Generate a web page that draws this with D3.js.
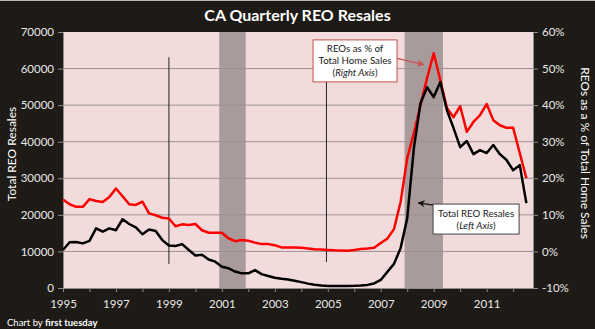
<!DOCTYPE html>
<html lang="en">
<head>
<meta charset="utf-8">
<title>CA Quarterly REO Resales</title>
<style>
  body { margin: 0; background: #1e1a15; }
  svg { display: block; }
  text { font-family: Lato, "Open Sans", sans-serif; }
  .axis text { fill: #e8e8e8; font-size: 11.5px; }
  .axis path, .axis line { stroke: #8c8c8c; }
  .note text { font-size: 9.7px; fill: #1a1a1a; text-anchor: middle; }
</style>
</head>
<body>
<svg width="595" height="329"></svg>
<script src="https://cdn.jsdelivr.net/npm/d3@7"></script>
<script>
// quarterly REO resales in California, 1995 Q1 through 2012 Q3
var startYear = 1995,
    quarterCount = 71;

// total REO resales per quarter (left axis)
var reoResales = [
  10400, 12500, 12600, 12200,
  12900, 16300, 15400, 16300,
  15800, 18800, 17500, 16600,
  14700, 16000, 15600, 13100,
  11600, 11500, 12000, 10400,
   8900,  9100,  7800,  7200,
   5800,  5400,  4500,  4000,
   4000,  4900,  3800,  3300,
   2800,  2500,  2300,  2000,
   1600,  1200,   900,   700,
    550,   550,   550,   550,
    600,   700,   850,  1250,
   2200,  4400,  6600, 10900,
  19100, 38200, 50500, 54900,
  52200, 56300, 48600, 43700,
  38500, 40200, 36600, 37700,
  36900, 39100, 36600, 35000,
  32200, 33600, 23200
];

// REOs as a percentage of all home sales (right axis)
var reoShare = [
  14.2, 12.9, 12.2, 12.2,
  14.3, 13.8, 13.5, 14.9,
  17.2, 15.1, 12.9, 12.7,
  13.6, 10.4,  9.9,  9.2,
   9.0,  6.9,  7.4,  7.2,
   7.5,  5.8,  5.1,  5.1,
   5.1,  3.6,  2.8,  3.1,
   2.9,  2.4,  2.0,  2.0,
   1.7,  1.1,  1.1,  1.1,
   1.0,  0.8,  0.6,  0.5,
   0.4,  0.3,  0.25, 0.2,
   0.4,  0.65, 0.8,  1.0,
   2.3,  3.5,  6.1, 13.5,
  25.5, 32.3, 40.0, 47.4,
  54.2, 46.8, 39.2, 36.7,
  39.7, 32.7, 35.4, 37.3,
  40.3, 35.9, 34.5, 33.8,
  33.8, 26.9, 20.0
];

// recessions, as fractional years
var recessions = [[2000.9, 2001.9], [2007.9, 2009.35]];

var tickYears = d3.range(1995, 2013);
var leftTicks = d3.range(0, 70001, 10000);
var rightTicks = d3.range(-10, 61, 10);

var svg = d3.select("svg"),
    margin = {top: 32, right: 62, bottom: 41, left: 63},
    width = +svg.attr("width") - margin.left - margin.right,
    height = +svg.attr("height") - margin.top - margin.bottom;

// one point per quarter, x is a fractional year
var quarters = d3.range(quarterCount).map(function(i) { return startYear + i / 4; });

var x = d3.scaleLinear().domain([1995, 2012.75]).range([0, width]);
var yL = d3.scaleLinear().domain([0, 70000]).range([height, 0]);
var yR = d3.scaleLinear().domain([-10, 60]).range([height, 0]);

// thin light edge along the top of the frame
svg.append("rect").attr("width", 595).attr("height", 1).attr("fill", "#b8b8b8");

svg.append("text")
  .attr("x", 297.5).attr("y", 21)
  .attr("text-anchor", "middle")
  .attr("fill", "#fff")
  .style("font-size", "16px").style("font-weight", "bold")
  .text("CA Quarterly REO Resales");

var g = svg.append("g").attr("transform", "translate(" + margin.left + "," + margin.top + ")");

// plot area
g.append("rect").attr("width", width).attr("height", height).attr("fill", "#f2dcdb");

// recession shading
g.selectAll(".recession")
  .data(recessions)
  .enter().append("rect")
    .attr("class", "recession")
    .attr("x", function(d) { return x(d[0]); })
    .attr("width", function(d) { return x(d[1]) - x(d[0]); })
    .attr("y", 0).attr("height", height)
    .attr("fill", "#a99b9c");

// horizontal gridlines
g.selectAll(".grid")
  .data(leftTicks.slice(1, -1))
  .enter().append("line")
    .attr("class", "grid")
    .attr("x1", 0).attr("x2", width)
    .attr("y1", function(d) { return yL(d); })
    .attr("y2", function(d) { return yL(d); })
    .attr("stroke", "#9a9292").attr("stroke-width", 1);

// axes
g.append("g").attr("class", "axis")
  .call(d3.axisLeft(yL).tickValues(leftTicks).tickSize(5).tickSizeOuter(0).tickPadding(4).tickFormat(d3.format("d")));

g.append("g").attr("class", "axis")
  .attr("transform", "translate(" + width + ",0)")
  .call(d3.axisRight(yR).tickValues(rightTicks).tickSize(5).tickSizeOuter(0).tickPadding(4)
    .tickFormat(function(d) { return d + "%"; }));

g.append("g").attr("class", "axis")
  .attr("transform", "translate(0," + height + ")")
  .call(d3.axisBottom(x).tickValues(tickYears).tickSize(4).tickSizeOuter(0).tickPadding(8)
    .tickFormat(function(d) { return d % 2 ? d : ""; }));

// axis titles
svg.append("text")
  .attr("transform", "translate(16," + (margin.top + height / 2 - 6) + ") rotate(-90)")
  .attr("text-anchor", "middle").attr("fill", "#fff")
  .style("font-size", "12px")
  .text("Total REO Resales");

svg.append("text")
  .attr("transform", "translate(581," + (margin.top + height / 2 - 7) + ") rotate(90)")
  .attr("text-anchor", "middle").attr("fill", "#fff")
  .style("font-size", "12px")
  .text("REOs as a % of Total Home Sales");

// leader lines from the annotations
var leaders = [
  {t: 1999.0, v0: 63100, v1: 6600},
  {t: 2004.95, v0: 56400, v1: 7100}
];
g.selectAll(".leader")
  .data(leaders)
  .enter().append("line")
    .attr("x1", function(d) { return x(d.t); }).attr("x2", function(d) { return x(d.t); })
    .attr("y1", function(d) { return yL(d.v0); }).attr("y2", function(d) { return yL(d.v1); })
    .attr("stroke", "#222").attr("stroke-width", 1);

// the two series
var resalesLine = d3.line()
  .x(function(d, i) { return x(quarters[i]); })
  .y(function(d) { return yL(d); });

var shareLine = d3.line()
  .x(function(d, i) { return x(quarters[i]); })
  .y(function(d) { return yR(d); });

g.append("path").datum(reoShare)
  .attr("d", shareLine)
  .attr("fill", "none").attr("stroke", "#ff0000")
  .attr("stroke-width", 2.5).attr("stroke-linejoin", "round");

g.append("path").datum(reoResales)
  .attr("d", resalesLine)
  .attr("fill", "none").attr("stroke", "#000")
  .attr("stroke-width", 2.5).attr("stroke-linejoin", "round");

// arrow heads
var defs = svg.append("defs");
[["arrowRed", "#c85050"], ["arrowBlack", "#111"]].forEach(function(m) {
  defs.append("marker")
    .attr("id", m[0])
    .attr("viewBox", "0 0 10 10")
    .attr("refX", 9).attr("refY", 5)
    .attr("markerWidth", 6).attr("markerHeight", 6)
    .attr("orient", "auto")
  .append("path")
    .attr("d", "M0,0 L10,5 L0,10 L3,5 Z")
    .attr("fill", m[1]);
});

// callout boxes
var notes = [
  {t: 2006.03, v: 62100, w: 84, h: 42, stroke: "#c0504d",
   lines: ["REOs as % of", "Total Home Sales", "(<i>Right Axis</i>)"],
   arrow: {t0: 2007.62, v0: 62800, t1: 2008.62, v1: 61100, id: "arrowRed", color: "#c85050"}},
  {t: 2010.6, v: 18850, w: 86, h: 30, stroke: "#444",
   lines: ["Total REO Resales", "(<i>Left Axis</i>)"],
   arrow: {t0: 2009.98, v0: 21600, t1: 2008.42, v1: 23300, id: "arrowBlack", color: "#111"}}
];

var note = g.selectAll(".note")
  .data(notes)
  .enter().append("g")
    .attr("class", "note");

note.append("line")
  .attr("x1", function(d) { return x(d.arrow.t0); })
  .attr("y1", function(d) { return yL(d.arrow.v0); })
  .attr("x2", function(d) { return x(d.arrow.t1); })
  .attr("y2", function(d) { return yL(d.arrow.v1); })
  .attr("stroke", function(d) { return d.arrow.color; })
  .attr("stroke-width", 1.2)
  .attr("marker-end", function(d) { return "url(#" + d.arrow.id + ")"; });

note.append("rect")
  .attr("x", function(d) { return x(d.t) - d.w / 2; })
  .attr("y", function(d) { return yL(d.v) - d.h / 2; })
  .attr("width", function(d) { return d.w; })
  .attr("height", function(d) { return d.h; })
  .attr("fill", "#fff")
  .attr("stroke", function(d) { return d.stroke; })
  .attr("stroke-width", 1);

note.each(function(d) {
  var top = yL(d.v) - d.h / 2,
      lineH = 12,
      first = top + (d.h - d.lines.length * lineH) / 2 + 9.5;
  d.lines.forEach(function(s, i) {
    d3.select(this).append("text")
      .attr("x", x(d.t))
      .attr("y", first + i * lineH)
      .html(s.replace(/<i>/, "<tspan font-style='italic'>").replace(/<\/i>/, "</tspan>"));
  }, this);
});

// credit line
svg.append("text")
  .attr("x", 7).attr("y", 326)
  .attr("fill", "#fff")
  .style("font-size", "9.5px")
  .html("Chart by <tspan font-weight='bold'>first tuesday</tspan>");
</script>
</body>
</html>
